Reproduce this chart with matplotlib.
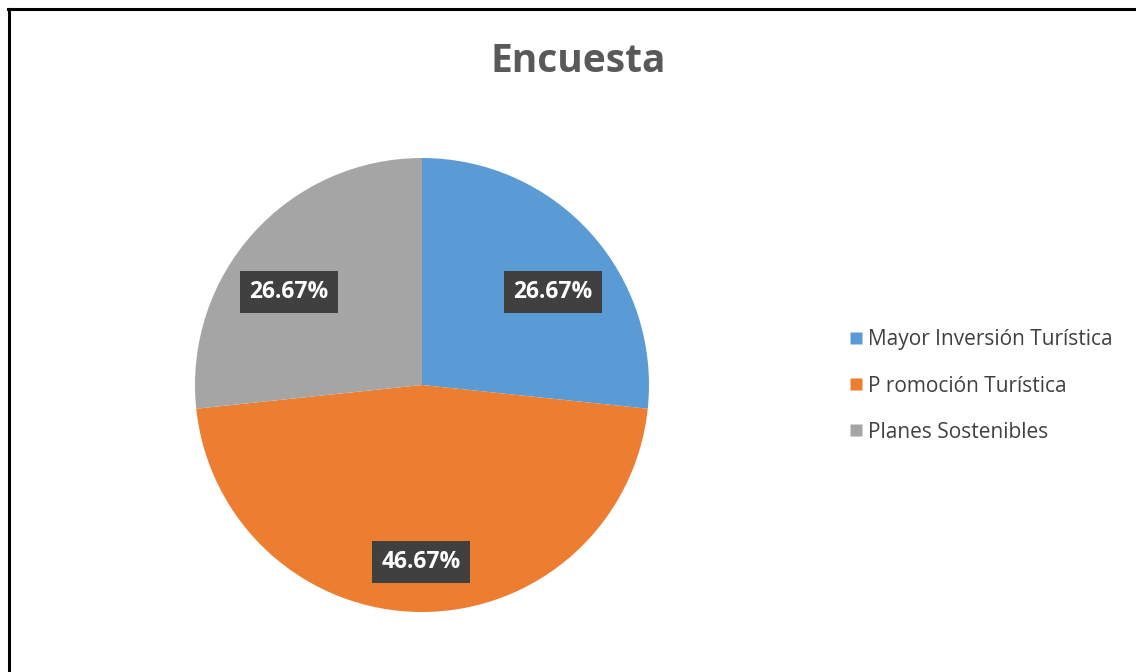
import matplotlib
matplotlib.use("Agg")
import matplotlib.pyplot as plt
from matplotlib.lines import Line2D

# Survey results
categories = ["Mayor Inversión Turística", "P romoción Turística", "Planes Sostenibles"]
percentages = [26.67, 46.67, 26.67]
colors = ["#5B9BD5", "#ED7D31", "#A5A5A5"]
title = "Encuesta"

# Label anchor points (pixels from top-left) for the value boxes
label_xy = [(553, 292), (421, 562), (289, 292)]

W, H = 1136, 672
fig = plt.figure(figsize=(W / 100, H / 100), dpi=100)
fig.patch.set_facecolor("white")

# Pixel-space axes so the pie can be positioned precisely
ax = fig.add_axes([0, 0, 1, 1])

font = "Open Sans"

wedges, texts, autotexts = ax.pie(
    percentages,
    colors=colors,
    startangle=90,
    counterclock=False,
    center=(422, H - 385),
    radius=227,
    autopct=lambda p: "",
    pctdistance=0.74,
    wedgeprops=dict(linewidth=0),
    frame=True,
)
ax.set_xlim(0, W)
ax.set_ylim(0, H)
ax.set_aspect("equal")
ax.axis("off")

# Value labels in dark boxes
for t, v, (lx, ly) in zip(autotexts, percentages, label_xy):
    t.set_text(f"{v:.2f}%")
    t.set_position((lx, H - ly))
    t.set_color("white")
    t.set_fontsize(16.5)
    t.set_fontweight("bold")
    t.set_fontfamily(font)
    t.set_bbox(dict(boxstyle="square,pad=0.4", facecolor="#404040", edgecolor="none"))

# Title
ax.text(578, H - 62, title, ha="center", va="center", fontsize=28,
        fontweight="bold", color="#595959", fontfamily=font)

# Legend
handles = [Line2D([0], [0], marker="s", linestyle="none", markersize=8,
                  markerfacecolor=c, markeredgecolor="none") for c in colors]
leg = fig.legend(handles, categories, loc="center left",
                 bbox_to_anchor=(842 / W, 1 - 386 / H), frameon=False,
                 prop=dict(family=font, size=15), labelcolor="#404040",
                 handlelength=0.5, handletextpad=0.35, labelspacing=1.2,
                 borderaxespad=0)

# Frame lines along the top and left edges
fig.add_artist(Line2D([8 / W, 1], [1 - 8.5 / H, 1 - 8.5 / H], color="black",
                      linewidth=2.2, transform=fig.transFigure))
fig.add_artist(Line2D([8.5 / W, 8.5 / W], [0, 1 - 8.5 / H], color="black",
                      linewidth=2.2, transform=fig.transFigure))

fig.savefig("out.png", dpi=100, facecolor="white")
